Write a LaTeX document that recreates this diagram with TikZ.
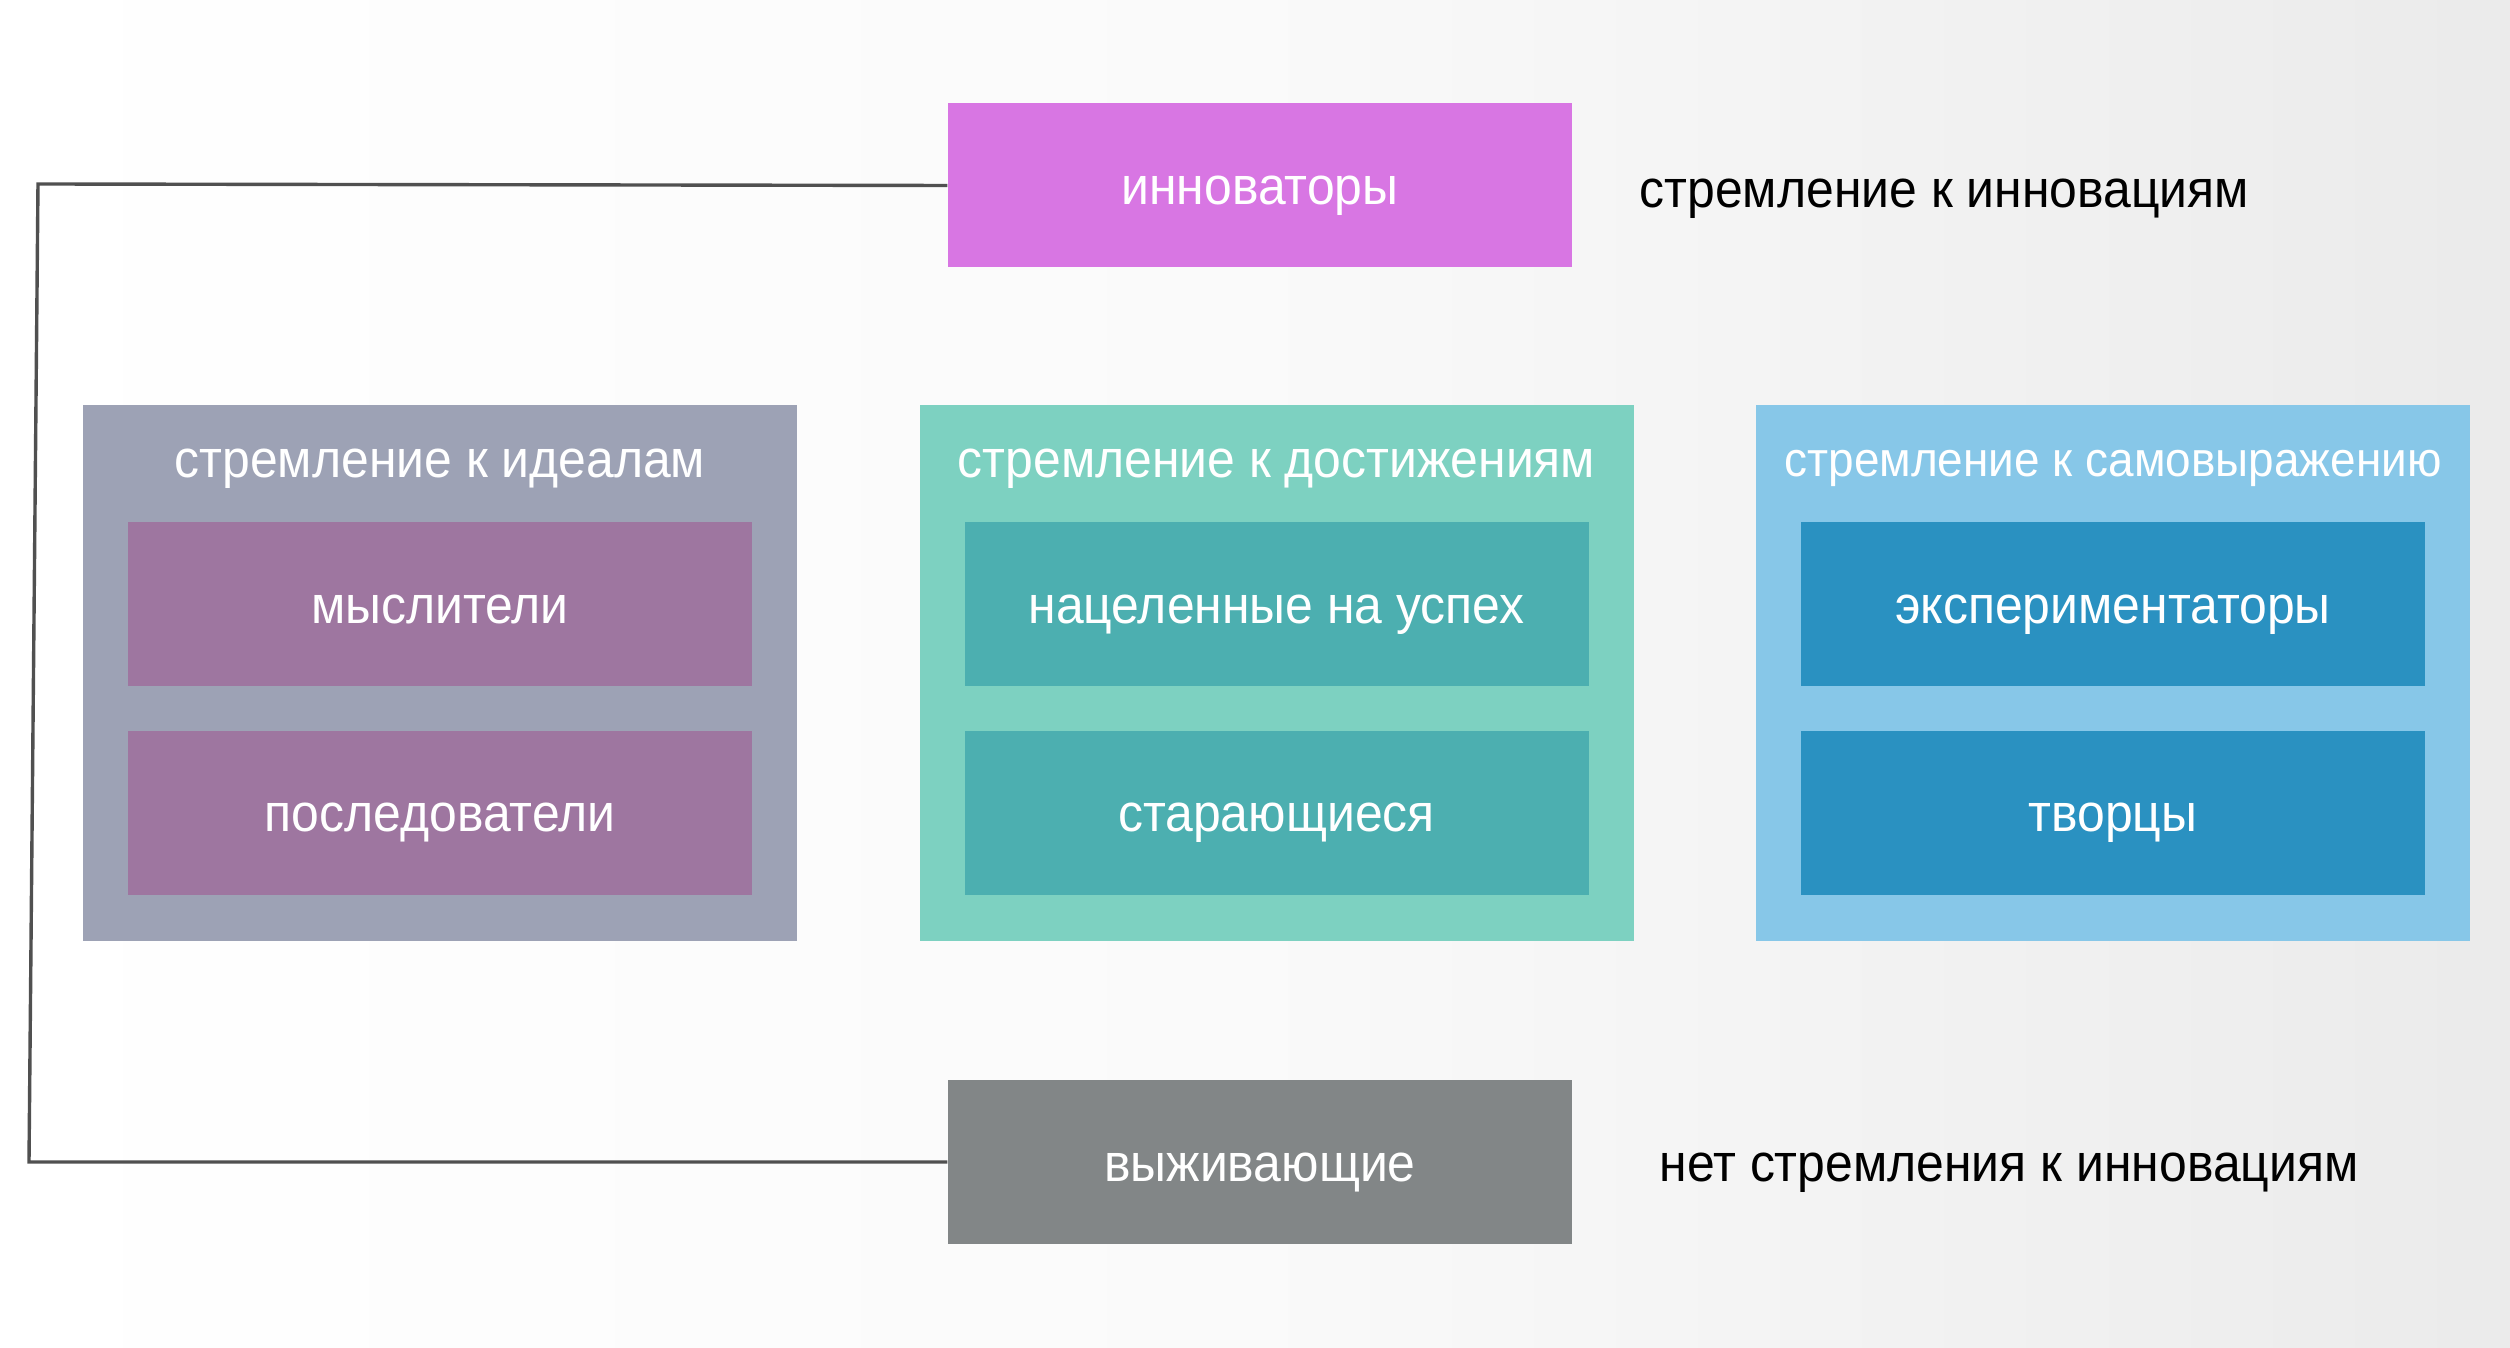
\documentclass[tikz,border=0pt]{standalone}
\usepackage{fontspec}
\setmainfont[FakeStretch=0.94]{Liberation Sans}
\definecolor{innC}{HTML}{D876E3}
\definecolor{grpA}{HTML}{9DA2B5}
\definecolor{boxA}{HTML}{9E76A0}
\definecolor{grpB}{HTML}{7DD1C1}
\definecolor{boxB}{HTML}{4CAFB0}
\definecolor{grpC}{HTML}{87C7E8}
\definecolor{boxC}{HTML}{2A91C1}
\definecolor{survC}{HTML}{828687}
\definecolor{lineC}{HTML}{505050}
\begin{document}
\begin{tikzpicture}[x=0.1mm,y=-0.1mm,
  every node/.style={font=\fontsize{15.1pt}{18pt}\selectfont},
  grp/.style={rectangle, inner sep=0pt, minimum width=71.4mm, minimum height=53.6mm},
  cell/.style={rectangle, inner sep=0pt, minimum width=62.4mm, minimum height=16.4mm, text=white,
    text height=3.8mm, text depth=0mm},
  ttl/.style={text=white, inner sep=0pt, anchor=base},
  side/.style={text=black, anchor=base west, inner sep=0pt},
  conn/.style={draw=lineC, line width=0.34mm}]
\useasboundingbox (0,0) rectangle (2510,1348);
\shade[left color=white, right color=black!8, middle color=white!98!black] (0,0) rectangle (2510,1348);
% groups
\node[grp, fill=grpA] (gA) at (440,673) {};
\node[grp, fill=grpB] (gB) at (1276.5,673) {};
\node[grp, fill=grpC] (gC) at (2113,673) {};
\node[ttl] (tA) at (440,478) {стремление к идеалам};
\node[ttl] (tB) at (1276.5,478) {стремление к достижениям};
\node[ttl, font=\fontsize{13.9pt}{17pt}\selectfont] (tC) at (2113,477) {стремление к самовыражению};
\node[cell, fill=boxA] (a1) at (440,604.5) {мыслители};
\node[cell, fill=boxA] (a2) at (440,812.5) {последователи};
\node[cell, fill=boxB] (b1) at (1276.5,604.5) {нацеленные на успех};
\node[cell, fill=boxB] (b2) at (1276.5,812.5) {старающиеся};
\node[cell, fill=boxC] (c1) at (2113,604.5) {экспериментаторы};
\node[cell, fill=boxC] (c2) at (2113,812.5) {творцы};
% top and bottom
\node[cell, fill=innC] (inn) at (1260,185.5) {инноваторы};
\node[cell, fill=survC] (surv) at (1260,1162) {выживающие};
\node[side] (lt) at (1639,208) {стремление к инновациям};
\node[side] (lb) at (1659,1181) {нет стремления к инновациям};
% connector
\coordinate (k1) at (38,184);
\coordinate (k2) at (29,1162);
\draw[conn] (inn.west) -- (k1) -- (k2) -- (surv.west);
\end{tikzpicture}
\end{document}
